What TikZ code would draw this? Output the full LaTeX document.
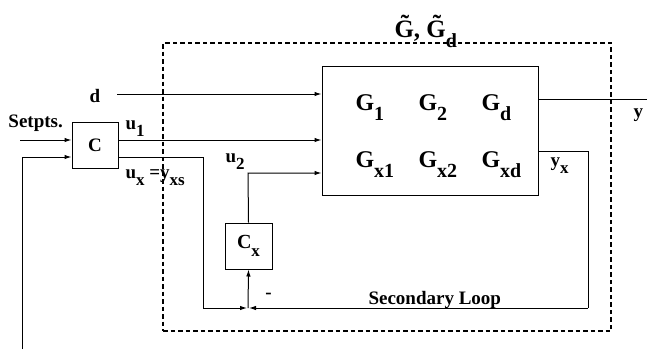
\documentclass[tikz,border=0pt]{standalone}
\usepackage{fontspec}
\setmainfont{Liberation Serif}
\usetikzlibrary{arrows.meta}
\newcommand\lo[3][0pt]{\kern#1\raisebox{-0.42em}{\fontsize{#2}{#2}\selectfont #3}}
\begin{document}
\begin{tikzpicture}[x=1pt,y=-1pt,line width=1pt,
  arr/.style={-{Latex[length=7pt,width=4.5pt]}},
  blk/.style={draw,inner sep=0pt},
  lbl/.style={inner sep=0pt,anchor=base west,font=\fontsize{19}{19}\selectfont\bfseries},
  gent/.style={inner sep=0pt,anchor=base west,font=\fontsize{24}{24}\selectfont\bfseries},
  plantbox/.style={draw,dash pattern=on 4.5pt off 3pt,line width=1.3pt,inner sep=0pt}]
\useasboundingbox (0,0) rectangle (647,349);
% dashed plant boundary
\node[plantbox,minimum width=448pt,minimum height=288pt] (plant) at (387,187) {};
\node[gent,font=\fontsize{25}{25}\selectfont\bfseries] (title) at (394,37) {\~G, \~G\lo{20}{d}};
% blocks
\node[blk,minimum width=46pt,minimum height=46pt,font=\fontsize{19}{19}\selectfont\bfseries] (C) at (95,145) {C};
\node[blk,minimum width=216pt,minimum height=129pt] (G) at (430,130.5) {};
\node[blk,minimum width=47pt,minimum height=46pt,font=\fontsize{20}{20}\selectfont\bfseries] (Cx) at (248.5,246) {C\lo{17}{x}};
% G entries
\node[gent] (g1) at (355,110) {G\lo{20}{1}};
\node[gent] (g2) at (418,110) {G\lo{20}{2}};
\node[gent] (gd) at (481,110) {G\lo{20}{d}};
\node[gent] (gx1) at (355,167) {G\lo{20}{x1}};
\node[gent] (gx2) at (418,167) {G\lo{20}{x2}};
\node[gent] (gxd) at (481,167) {G\lo{20}{xd}};
% labels
\node[lbl] (lsp) at (8,127) {Setpts.};
\node[lbl] (ld) at (89,102) {d};
\node[lbl] (lu1) at (125,129) {u\lo{17}{1}};
\node[lbl] (lux) at (125,178) {u\lo{17}{x} =y\lo{17}{xs}};
\node[lbl] (lu2) at (225,162) {u\lo{17}{2}};
\node[lbl] (ly) at (633,117) {y};
\node[lbl] (lyx) at (550,166) {y\lo{17}{x}};
\node[lbl] (lsec) at (368,304) {Secondary Loop};
\node[inner sep=0pt,font=\fontsize{19}{19}\selectfont\bfseries] (lminus) at (268.5,296) {-};
% coordinates
\coordinate (sp) at (20,140);
\coordinate (fb) at (22,349);
\coordinate (fbt) at (22,157);
\coordinate (dd) at (117,94);
\coordinate (ux) at (203,157);
\coordinate (j) at (248,308);
\coordinate (yxr) at (588,151);
\coordinate (u2) at (248,173);
\coordinate (yout) at (647,99);
% connectors
\draw[arr] (sp) -- (sp -| C.west);
\draw[arr] (fb) -- (fbt) -- (fbt -| C.west);
\draw[arr] (C.east |- sp) -- (sp -| G.west);
\draw[arr] (dd) -- (dd -| G.west);
\draw (C.east |- ux) -- (ux) -- (ux |- j);
\draw[arr] (ux |- j) -- ([xshift=-1pt]j);
\draw (G.east |- yxr) -- (yxr) -- (yxr |- j);
\draw[arr] (yxr |- j) -- ([xshift=1pt]j);
\draw[arr] (j) -- (Cx.south);
\draw[arr] (Cx.north) -- (u2) -- (u2 -| G.west);
\draw (G.east |- yout) -- (yout);
\end{tikzpicture}
\end{document}
